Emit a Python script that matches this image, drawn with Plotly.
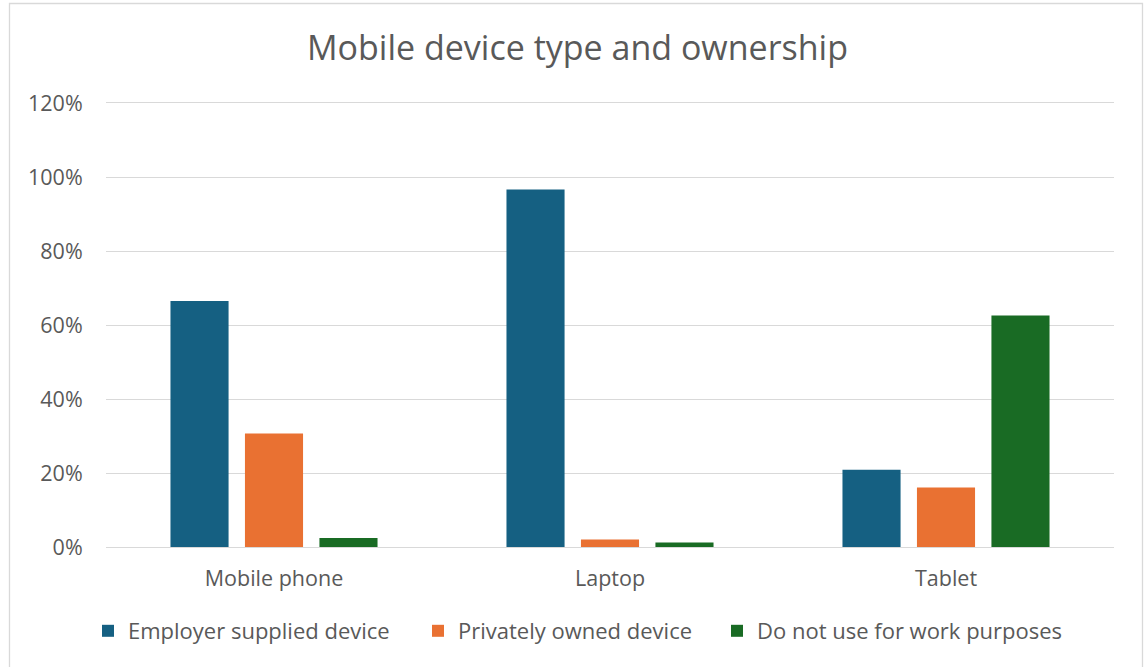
import plotly.graph_objects as go

categories = ["Mobile phone", "Laptop", "Tablet"]
series_names = ["Employer supplied device", "Privately owned device", "Do not use for work purposes"]
employer = [0.665, 0.966, 0.209]
private = [0.307, 0.020, 0.161]
not_used = [0.024, 0.012, 0.626]
colors = ["#156082", "#E97132", "#196B24"]
y_ticks = [0, 0.2, 0.4, 0.6, 0.8, 1.0, 1.2]

W, H = 1144, 667
L, R, T, B = 106, 30, 103, 120
pw, ph = W - L - R, H - T - B

def px_x(px):
    return (px - L) / pw

def px_y(py):
    return (H - B - py) / ph

FONT = "Open Sans"
GRAY = "#595959"
GRID = "#D9D9D9"

fig = go.Figure()
legends = ["legend", "legend2", "legend3"]
for name, vals, col, lg in zip(series_names, [employer, private, not_used], colors, legends):
    fig.add_trace(go.Bar(x=categories, y=vals, name=name, marker=dict(color=col, line=dict(width=0)),
                         legend=lg, showlegend=True))

legend_text_x = [128, 458, 757]
leg_common = dict(orientation="h", yanchor="middle", xanchor="left", visible=True,
                  font=dict(family=FONT, size=22, color=GRAY), bgcolor="rgba(0,0,0,0)")
leg_objs = {}
for lg, tx in zip(legends, legend_text_x):
    leg_objs[lg] = dict(x=px_x(tx - 40), y=px_y(631), **leg_common)

fig.update_layout(
    width=W, height=H,
    margin=dict(l=L, r=R, t=T, b=B, autoexpand=False),
    paper_bgcolor="white", plot_bgcolor="white",
    showlegend=True,
    barmode="group", bargap=0.335, bargroupgap=0.22,
    title=dict(text="Mobile device type and ownership", font=dict(family=FONT, size=34, color=GRAY),
               xref="paper", x=px_x(577.5), xanchor="center",
               yref="container", y=1 - 48.5 / H, yanchor="middle"),
    font=dict(family=FONT, color=GRAY),
    **leg_objs,
    xaxis=dict(showgrid=False, showline=True, linecolor=GRID, linewidth=1.3, mirror=True,
               zeroline=False,
               ticks="outside", ticklen=12, tickcolor="rgba(0,0,0,0)",
               tickfont=dict(family=FONT, size=21.5, color=GRAY)),
    yaxis=dict(range=[0, 1.2], tickvals=y_ticks, tickformat=".0%",
               showgrid=True, gridcolor=GRID, gridwidth=1.3,
               zeroline=True, zerolinecolor=GRID, zerolinewidth=1.3,
               showline=False, ticks="outside", ticklen=18, tickcolor="rgba(0,0,0,0)",
               tickfont=dict(family=FONT, size=21.5, color=GRAY)),
    shapes=[dict(type="rect", xref="paper", yref="paper",
                 x0=px_x(9.5), x1=px_x(1142.5), y0=px_y(675), y1=px_y(3.5),
                 line=dict(color=GRID, width=1.3), fillcolor="rgba(0,0,0,0)", layer="below")],
)

fig.write_html("out.html", config={"displayModeBar": False},
               post_script="document.body.style.margin='0';document.body.style.padding='0';")
